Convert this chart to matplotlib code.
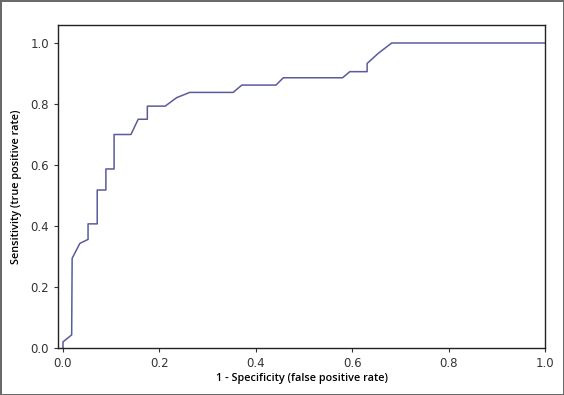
import matplotlib.pyplot as plt

# ROC curve points
fpr = [0.0, 0.0, 0.018, 0.019, 0.035, 0.052, 0.052, 0.071, 0.071, 0.089, 0.089,
       0.106, 0.106, 0.141, 0.156, 0.175, 0.175, 0.212, 0.236, 0.263, 0.353,
       0.371, 0.442, 0.457, 0.580, 0.595, 0.631, 0.631, 0.654, 0.682, 1.0]
tpr = [0.0, 0.02, 0.043, 0.294, 0.343, 0.356, 0.407, 0.407, 0.518, 0.518, 0.587,
       0.587, 0.70, 0.70, 0.75, 0.75, 0.793, 0.793, 0.821, 0.838, 0.838,
       0.862, 0.862, 0.886, 0.886, 0.906, 0.906, 0.933, 0.966, 1.0, 1.0]

xticks = [0.0, 0.2, 0.4, 0.6, 0.8, 1.0]
yticks = [0.0, 0.2, 0.4, 0.6, 0.8, 1.0]

fig = plt.figure(figsize=(5.64, 3.95), dpi=100, edgecolor='#6a6a6a', linewidth=2)
ax = fig.add_axes([0.1028, 0.119, 0.8635, 0.8177])

ax.plot(fpr, tpr, color='#5b5b9c', linewidth=1.1)

ax.set_xlim(-0.0104, 1.0)
ax.set_ylim(0.0, 1.059)
ax.set_xticks(xticks)
ax.set_yticks(yticks)
ax.set_xticklabels([f'{v:.1f}' for v in xticks])
ax.set_yticklabels([f'{v:.1f}' for v in yticks])
ax.tick_params(direction='out', length=3, width=0.8, labelsize=8.5, colors='#333333')
for s in ax.spines.values():
    s.set_linewidth(1.0)
    s.set_color('#222222')

ax.set_xlabel('1 - Specificity (false positive rate)', fontsize=7.8,
              fontweight='semibold', family='Open Sans', labelpad=2)
ax.set_ylabel('Sensitivity (true positive rate)', fontsize=7.8,
              fontweight='semibold', family='Open Sans', labelpad=6)

fig.savefig('out.png', dpi=100)
